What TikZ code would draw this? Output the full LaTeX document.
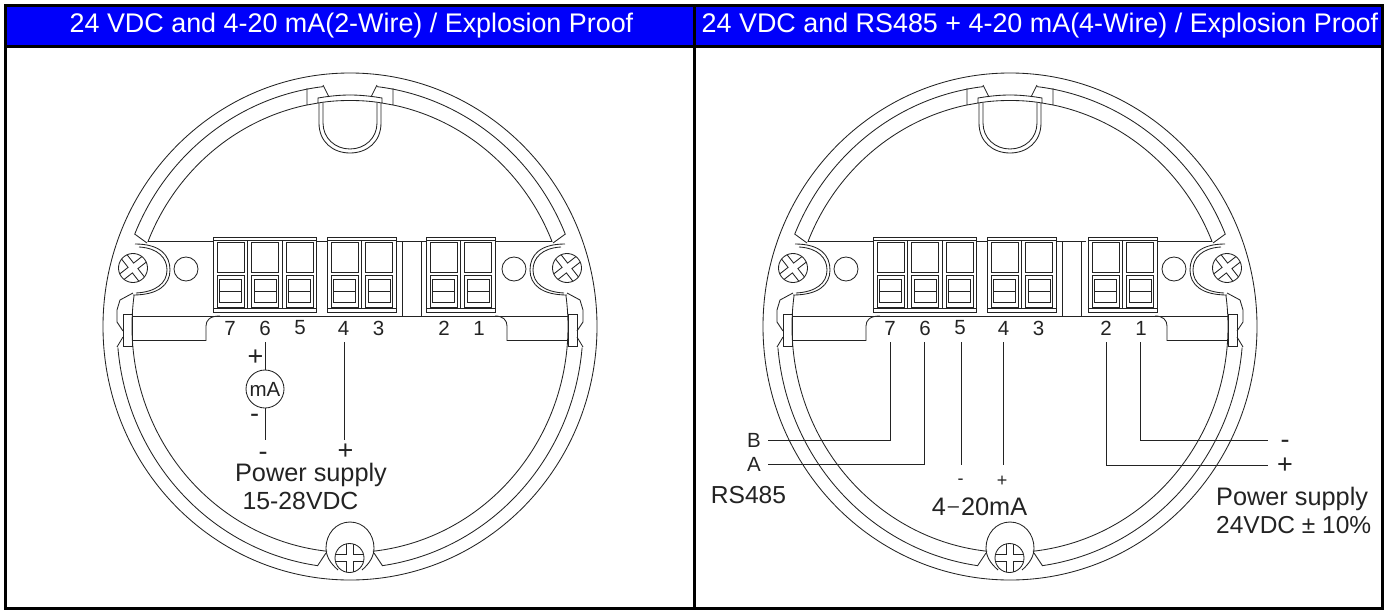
\documentclass[tikz,border=0pt]{standalone}
\usepackage{fontspec}
\usetikzlibrary{calc}
\setmainfont{Liberation Sans}
\definecolor{hdrblue}{RGB}{0,0,250}
\definecolor{inkline}{RGB}{35,35,35}

\tikzset{
  x=1pt, y=-1pt,
  rail/.style={draw=inkline, line width=0.85pt},
  wire/.style={draw=inkline, line width=0.85pt},
  frame/.style={draw=black, line width=3pt},
  hdr/.style={fill=hdrblue, text=white, inner sep=0pt, minimum height=38pt, font=\fontsize{26.9}{29}\selectfont},
  lbl/.style={text=inkline, inner sep=0pt, font=\fontsize{25.3}{27}\selectfont},
  pin/.style={text=inkline, inner sep=0pt, font=\fontsize{20.5}{22}\selectfont},
  sign/.style={text=inkline, inner sep=0pt, font=\fontsize{27}{29}\selectfont},
  tiny sign/.style={text=inkline, inner sep=0pt, font=\fontsize{18}{20}\selectfont},
  midring/.style={x radius=233, y radius=241.5},
  innerring/.style={x radius=218, y radius=226},
  pics/screw/.style={code={
    \begin{scope}
      \clip (0,0) circle (14.5);
      \draw[rail] (-3.5,-20) -- (-3.5,-3.5) -- (-20,-3.5) -- (-20,3.5) -- (-3.5,3.5) -- (-3.5,20) -- (3.5,20) -- (3.5,3.5) -- (20,3.5) -- (20,-3.5) -- (3.5,-3.5) -- (3.5,-20) -- cycle;
    \end{scope}
    \draw[rail] (0,0) circle (14.5);
  }},
  pics/termblock/.style={code={
    \draw[rail,fill=white] (0,237) rectangle (34.5*#1,312);
    \draw[rail] (0,240) -- (34.5*#1,240);
    \draw[rail] (0,308) -- (34.5*#1,308);
    \foreach \n in {1,...,#1} {
      \begin{scope}[xshift={34.5*(\n-1)}]
        \draw[rail] (0,240) rectangle (34.5,308);
        \draw[rail] (4,242) rectangle (31,272);
        \draw[rail] (4,275) rectangle (31,307);
        \draw[rail] (6.5,279) rectangle (28.5,302);
        \draw[rail] (6.5,291) -- (28.5,291);
      \end{scope}
    }
  }},
  pics/dial/.style={code={
    % outer ring
    \draw[rail] (350,326.5) ellipse (247 and 253.5);
    % left half, then the same mirrored
    \foreach \m in {1,-1} {
      \begin{scope}[xshift=350,xscale=\m,xshift=-350]
        % middle ring
        \draw[rail] (350,326.5) ++(-96.6:233 and 241.5) arc[start angle=-96.6, end angle=-157.5, midring] -- (147,243);
        \draw[rail] (323,85) -- (329,97);
        \draw[rail] (133,293) -- (120,300) -- (117,310) -- (117,322) -- (123,331);
        \draw[rail] (123,337) -- (117,347);
        \draw[rail] (350,326.5) ++(175:233 and 241.5) arc[start angle=175, end angle=98, midring] -- (326,553);
        % inner ring
        \draw[rail] (350,326.5) ++(-101.4:218 and 226) arc[start angle=-101.4, end angle=-158, innerring];
        \draw[rail] (350,326.5) ++(188:218 and 226) arc[start angle=188, end angle=96, innerring];
        % top lug and cup
        \draw[rail] (307,88) -- (307,105) -- (318,103) -- (318,98) .. controls (330,96) and (340,95) .. (350,95);
        \draw[rail] (318,103) .. controls (330,101) and (340,100.5) .. (350,100.5);
        \draw[rail] (319,103) -- (319,123) .. controls (319,142) and (333,153) .. (350,153);
        \draw[rail] (323,103) -- (323,123) .. controls (323,138) and (335,149) .. (350,149);
        % side clip
        \draw[rail] (123,314) rectangle (132,346);
        % mounting boss, screw and hole
        \draw[rail] (135,244) .. controls (160,244) and (170,255) .. (170,270) .. controls (170,285) and (158,295) .. (133,295);
        \draw[rail] (139,247) .. controls (158,248) and (167,258) .. (167,270) .. controls (167,283) and (156,292) .. (136,293);
        \pic[rotate=38] at (133,268) {screw};
        \draw[rail] (186,269) circle (12);
        % bottom boss
        \draw[rail] (350,522) .. controls (336,522) and (326,534) .. (326,548) .. controls (326,556) and (330,563) .. (338,570);
      \end{scope}
    }
    \pic at (349.5,558) {screw};
    % plate edges and tabs
    \foreach \xa/\xb in {148/213,316/327,396/426,495/552} \draw[rail] (\xa,241) -- (\xb,241);
    \draw[rail] (132,316) -- (568,316);
    \draw[rail] (132,340.5) -- (206,340.5) -- (206,326) .. controls (206,320) and (210,316) .. (220,316);
    \draw[rail] (568,340.5) -- (507,340.5) -- (507,326) .. controls (507,320) and (503,316) .. (495,316);
    % terminal blocks
    \pic at (213,0) {termblock=3};
    \pic at (327,0) {termblock=2};
    \pic at (426+#1,0) {termblock=2};
    \draw[rail,fill=white] (402,241) rectangle (421,316);
    % terminal numbers
    \foreach \num/\nx in {7/230,6/265,5/300,4/343.5,3/378.5}
      \node[pin] (t\num) at (\nx,328) {\num};
    \node[pin] (t2) at (444+#1,328) {2};
    \node[pin] (t1) at (479+#1,328) {1};
  }}
}

\begin{document}
\begin{tikzpicture}
\useasboundingbox (0,0) rectangle (1387,613);

% headers
\node[hdr, minimum width=686pt] (hl) at (350,26) {\hspace*{3pt}24 VDC and 4-20 mA(2-Wire) / Explosion Proof};
\node[hdr, minimum width=686pt] (hr) at (1038,26) {\hspace*{4pt}24 VDC and RS485 + 4-20 mA(4-Wire) / Explosion Proof};

% table frame
\draw[frame] (5.5,5.5) rectangle (1382.5,608.5);
\draw[frame] (5.5,46.5) -- (1382.5,46.5);
\draw[frame] (694.5,5.5) -- (694.5,608.5);

% the two housings
\pic (ld) at (0,0) {dial=0};
\pic (rd) at (660,0) {dial=2};

% left: 2-wire
\coordinate (l6) at (265,342);
\coordinate (l4) at (344,342);
\node[circle, draw=inkline, line width=0.85pt, minimum size=38pt, inner sep=0pt, text=inkline, font=\fontsize{20.5}{22}\selectfont] (ma) at (265,389) {mA};
\node[sign] (lplus) at (255.5,358) {+};
\node[sign] (lminus) at (254.5,418) {-};
\coordinate (l6end) at (265,440);
\coordinate (l4end) at (344,440);
\node[sign] (lneg) at (263,456) {-};
\node[sign] (lpos) at (345.5,452) {+};
\draw[wire] (l6) -- (ma);
\draw[wire] (ma) -- (l6end);
\draw[wire] (l4) -- (l4end);
\node[lbl] (lsup) at (311,475) {Power supply};
\node[lbl, font=\fontsize{24.8}{27}\selectfont] (lvolt) at (300.5,501) {15-28VDC};

% right: 4-wire
\coordinate (r7) at (890,342);
\coordinate (r6) at (924,342);
\coordinate (r5) at (961,342);
\coordinate (r4) at (1003,342);
\coordinate (r2) at (1106,342);
\coordinate (r1) at (1140,342);
\coordinate (rnegend) at (1268,440);
\coordinate (rposend) at (1268,465);
\node[pin, anchor=east, inner xsep=7pt] (rb) at (768,440) {B};
\node[pin, anchor=east, inner xsep=7pt] (ra) at (768,464) {A};
\node[sign] (rneg) at (1285,444) {-};
\node[sign] (rpos) at (1285,466) {+};
\draw[wire] (r7) |- (rb);
\draw[wire] (r6) |- (ra);
\draw[wire] (r2) |- (rposend);
\draw[wire] (r1) |- (rnegend);
\node[tiny sign] (rm) at (960.5,482) {-};
\node[tiny sign] (rp) at (1002,481) {+};
\coordinate (r5end) at (961,465);
\coordinate (r4end) at (1003,465);
\draw[wire] (r5) -- (r5end);
\draw[wire] (r4) -- (r4end);
\node[lbl, font=\fontsize{24.6}{27}\selectfont] (rs) at (748.5,495) {RS485};
\node[lbl] (rma) at (979.5,507) {4\hspace{2pt}\raisebox{3.5pt}{\fontsize{20}{22}\selectfont –}\hspace{2pt}20mA};
\node[lbl, anchor=west] (rsup) at (1216,499) {Power supply};
\node[lbl, anchor=west, font=\fontsize{24.5}{27}\selectfont] (rvolt) at (1216,525) {24VDC ± 10\%};
\end{tikzpicture}
\end{document}
